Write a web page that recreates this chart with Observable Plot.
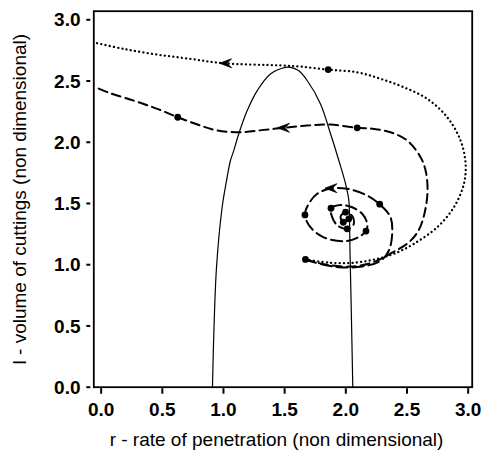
<!DOCTYPE html>
<html>
<head>
<meta charset="utf-8">
<script src="https://cdn.jsdelivr.net/npm/d3@7"></script>
<script src="https://cdn.jsdelivr.net/npm/@observablehq/plot@0.6"></script>
<style>
  html, body { margin: 0; padding: 0; background: #fff; }
  #chart svg { display: block; font-family: "Liberation Sans", Arial, sans-serif; }
</style>
</head>
<body>
<div id="chart"></div>
<script>
// Tick values
const xTicks = [0, 0.5, 1.0, 1.5, 2.0, 2.5, 3.0];
const yTicks = [0, 0.5, 1.0, 1.5, 2.0, 2.5, 3.0];
const xLabel = "r - rate of penetration (non dimensional)";
const yLabel = "l - volume of cuttings (non dimensional)";

// Solid curve (nullcline)
const solidR = [0.910, 0.921, 0.943, 0.989, 1.025, 1.057, 1.084, 1.125, 1.194, 1.276, 1.384, 1.507, 1.548, 1.613, 1.684, 1.793, 1.875, 1.943, 1.998, 2.025, 2.030, 2.034, 2.043, 2.057];
const solidL = [0.000, 0.436, 0.980, 1.469, 1.687, 1.851, 1.932, 2.069, 2.259, 2.422, 2.558, 2.612, 2.612, 2.585, 2.504, 2.313, 2.069, 1.851, 1.660, 1.524, 1.388, 1.116, 0.708, 0.000];

// Dotted trajectory (largest loop)
const dottedR = [1.670, 1.875, 2.065, 2.257, 2.392, 2.556, 2.747, 2.883, 2.965, 2.979, 2.938, 2.829, 2.666, 2.474, 2.284, 2.093, 1.856, 1.630, 1.466, 1.002, 0.730, 0.458, 0.185, -0.045];
const dottedL = [1.043, 1.016, 1.016, 1.048, 1.089, 1.171, 1.306, 1.469, 1.660, 1.824, 2.014, 2.204, 2.354, 2.449, 2.518, 2.571, 2.593, 2.618, 2.627, 2.645, 2.681, 2.716, 2.762, 2.812];

// Medium dashed trajectory
const dashedR = [1.670, 1.833, 2.038, 2.218, 2.382, 2.513, 2.594, 2.643, 2.668, 2.652, 2.611, 2.502, 2.365, 2.229, 2.093, 1.875, 1.684, 1.493, 1.330, 1.139, 0.948, 0.812, 0.626, 0.458, 0.267, 0.076, -0.045];
const dashedL = [1.043, 1.002, 0.985, 1.018, 1.100, 1.181, 1.279, 1.418, 1.606, 1.769, 1.878, 2.014, 2.082, 2.109, 2.118, 2.144, 2.136, 2.118, 2.101, 2.082, 2.096, 2.136, 2.204, 2.273, 2.340, 2.400, 2.449];

// Long-dashed spiral trajectory
const spiralR = [1.670, 1.809, 1.943, 2.134, 2.284, 2.352, 2.379, 2.365, 2.277, 2.175, 2.011, 1.875, 1.766, 1.697, 1.666, 1.711, 1.820, 1.984, 2.093, 2.165, 2.175, 2.134, 2.052, 1.971, 1.879, 1.887, 1.932, 2.011, 2.063, 2.055, 1.998, 1.957, 1.979, 2.025];
const spiralL = [1.043, 1.002, 0.980, 0.985, 1.033, 1.116, 1.252, 1.388, 1.494, 1.565, 1.620, 1.622, 1.579, 1.497, 1.407, 1.306, 1.224, 1.192, 1.220, 1.275, 1.334, 1.416, 1.469, 1.487, 1.461, 1.393, 1.320, 1.293, 1.328, 1.393, 1.429, 1.393, 1.347, 1.375];

// Time-marker dots
const dotR = [1.670, 2.277, 1.666, 2.165, 1.879, 2.011, 1.998, 1.979, 2.025, 2.093, 0.626, 1.856];
const dotL = [1.043, 1.494, 1.407, 1.275, 1.461, 1.293, 1.429, 1.347, 1.375, 2.118, 2.204, 2.593];

// Direction arrows (pointing left)
const arrowR = [1.017, 1.490, 1.878];
const arrowL = [2.645, 2.118, 1.625];

const zip = (a, b) => a.map((v, i) => ({r: v, l: b[i]}));
const solid = zip(solidR, solidL);
const dotted = zip(dottedR, dottedL);
const dashed = zip(dashedR, dashedL);
const spiral = zip(spiralR, spiralL);
const dots = zip(dotR, dotL);
const arrows = zip(arrowR, arrowL);

const arrowSymbol = {
  draw(ctx, size) {
    const s = Math.sqrt(size / Math.PI);
    ctx.moveTo(-s, 0);
    ctx.lineTo(s, -0.75 * s);
    ctx.lineTo(0.25 * s, 0);
    ctx.lineTo(s, 0.75 * s);
    ctx.closePath();
  }
};

const fmt = d3.format(".1f");
const font = "Liberation Sans, Arial, sans-serif";

const chart = Plot.plot({
  width: 483,
  height: 456,
  marginLeft: 93.3,
  marginRight: 11.3,
  marginTop: 10.7,
  marginBottom: 69.3,
  style: {background: "#fff", fontFamily: font, color: "black"},
  x: {domain: [-0.06, 3.033]},
  y: {domain: [0, 3.07]},
  marks: [
    Plot.line(solid, {x: "r", y: "l", curve: "catmull-rom", stroke: "black", strokeWidth: 1.2}),
    Plot.line(dotted, {x: "r", y: "l", curve: "catmull-rom", stroke: "black", strokeWidth: 2.3, strokeDasharray: "0.1,4.2", strokeLinecap: "round"}),
    Plot.line(dashed, {x: "r", y: "l", curve: "catmull-rom", stroke: "black", strokeWidth: 2, strokeDasharray: "9,5"}),
    Plot.line(spiral, {x: "r", y: "l", curve: "catmull-rom", stroke: "black", strokeWidth: 2, strokeDasharray: "11,5"}),
    Plot.dot(dots, {x: "r", y: "l", r: 3.4, fill: "black", stroke: "none"}),
    Plot.dot(arrows, {x: "r", y: "l", r: 6, symbol: arrowSymbol, fill: "black", stroke: "black", strokeWidth: 0.8}),
    Plot.frame({stroke: "black", strokeWidth: 1.8}),
    Plot.axisY({ticks: yTicks, tickFormat: () => "", tickSize: 4, dx: -3, strokeWidth: 2, label: null}),
    Plot.axisX({ticks: xTicks, tickFormat: () => "", tickSize: 5.5, dy: 1.5, strokeWidth: 2, label: null}),
    Plot.text(yTicks, {y: d => d, text: d => fmt(d), frameAnchor: "left", textAnchor: "end", lineAnchor: "middle", dx: -13.3, dy: 0.5, fontSize: 19, fontWeight: "bold", fill: "black"}),
    Plot.text(xTicks, {x: d => d, text: d => fmt(d), frameAnchor: "bottom", textAnchor: "middle", lineAnchor: "top", dy: 14.8, fontSize: 19, fontWeight: "bold", fill: "black"}),
    Plot.text([xLabel], {frameAnchor: "bottom", textAnchor: "middle", lineAnchor: "middle", dx: -6.5, dy: 53, fontSize: 19, fill: "black", text: d => d}),
    Plot.text([yLabel], {frameAnchor: "left", textAnchor: "middle", lineAnchor: "middle", dx: -73.6, rotate: -90, fontSize: 19, fill: "black", text: d => d})
  ]
});

document.getElementById("chart").appendChild(chart);
</script>
</body>
</html>
